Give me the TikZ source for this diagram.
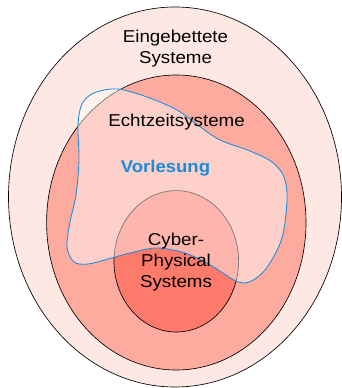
\documentclass[tikz,border=0pt]{standalone}
\usepackage{fontspec}
\newfontfamily\labelfont[FakeStretch=1.09]{Liberation Sans}
\definecolor{embfill}{HTML}{FEE8E3}
\definecolor{rtfill}{HTML}{FDAA9F}
\definecolor{cpsfill}{HTML}{FE7A6A}
\definecolor{lectblue}{HTML}{1A8CDB}
\begin{document}
\begin{tikzpicture}[x=1pt,y=-1pt,
  setring/.style={draw=black,line width=0.65pt},
  setlabel/.style={font=\labelfont\fontsize{17.2}{21.2}\selectfont,align=center,inner sep=0pt,anchor=north,text=black},
  lectlabel/.style={font=\labelfont\bfseries\fontsize{17}{21}\selectfont,inner sep=0pt,anchor=north,text=lectblue},
  lectarea/.style={draw=lectblue,line width=0.85pt,fill=white,fill opacity=0.45}]
\useasboundingbox (0,0) rectangle (342,388);
% nested sets
\draw[setring,fill=embfill] (175,197) ellipse [x radius=166.5,y radius=190];
\draw[setring,fill=rtfill] (176.3,222.5) ellipse [x radius=129.7,y radius=147.5];
\draw[setring,fill=cpsfill] (176.3,261.3) ellipse [x radius=62.3,y radius=70.7];
% area covered by the lecture
\draw[lectarea] plot[smooth cycle,tension=0.55] coordinates {
  (117,89) (147,97) (177,110) (199,126) (220,140) (250,151) (272,162)
  (284,177) (287,200) (282,238) (268,266) (255,279) (243,283) (232,279)
  (212,266) (195,257) (178,251) (155,248) (130,253) (108,259) (88,264)
  (74,262) (67,247) (70,222) (76,195) (79,160) (78,125) (82,104) (94,93)};
% labels
\node[setlabel] (emb) at (175.5,29.5) {Eingebettete\\Systeme};
\node[setlabel] (rt) at (176.5,113.8) {Echtzeitsysteme};
\node[lectlabel] (lect) at (165.5,160.2) {Vorlesung};
\node[setlabel] (cps) at (176,232.8) {Cyber-\\Physical\\Systems};
\end{tikzpicture}
\end{document}
